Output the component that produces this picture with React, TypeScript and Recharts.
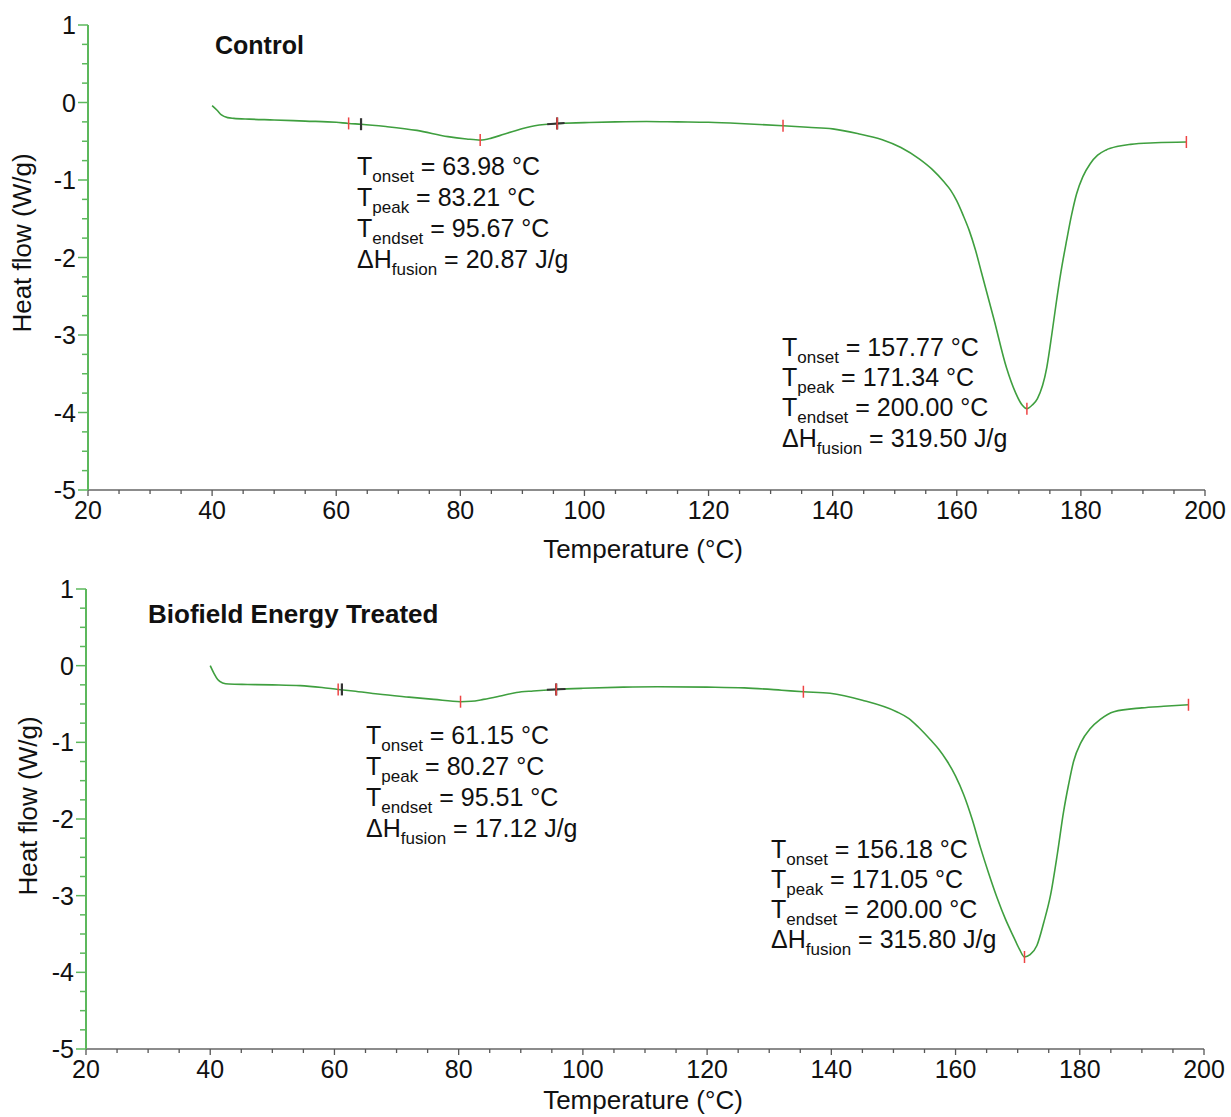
import { ComposedChart, Line, XAxis, YAxis, ReferenceDot } from 'recharts'

// Control sample DSC curve (temperature °C, heat flow W/g)
const controlTemp = [
  40.0, 40.8, 41.5, 42.5, 43.5, 46, 50, 55, 60, 62, 64, 68, 73, 78, 81, 83.2, 85, 87, 89, 92,
  95.6, 100, 105, 110, 115, 120, 125, 132, 136, 140, 144, 148, 151, 154, 156, 158, 159, 160,
  161, 162, 163, 164, 166, 168, 169.5, 170.5, 171.3, 172.2, 173, 174.5, 175.3, 176, 176.8,
  177.7, 178.5, 179.3, 180.3, 181.5, 182.7, 184, 186, 188, 192, 197,
]
const controlFlow = [
  -0.04, -0.1, -0.16, -0.195, -0.205, -0.215, -0.225, -0.24, -0.255, -0.27, -0.28, -0.31,
  -0.36, -0.44, -0.47, -0.485, -0.46, -0.41, -0.36, -0.3, -0.27, -0.26, -0.25, -0.245, -0.25,
  -0.255, -0.27, -0.3, -0.32, -0.34, -0.4, -0.48, -0.58, -0.73, -0.86, -1.03, -1.13, -1.27,
  -1.45, -1.65, -1.9, -2.2, -2.8, -3.42, -3.75, -3.9, -3.95, -3.9, -3.82, -3.42, -3.0, -2.6,
  -2.18, -1.78, -1.45, -1.18, -0.96, -0.79, -0.68, -0.615, -0.565, -0.54, -0.52, -0.51,
]

// Biofield energy treated sample
const treatedTemp = [
  40.0, 40.6, 41.2, 42, 43, 46, 50, 54.5, 58, 60.6, 63, 67, 72, 76, 80.3, 82, 84, 86.5, 89.3,
  92, 95.7, 100, 106.5, 112, 120, 126, 132, 135.5, 139.8, 145, 150.5, 152.5, 154, 156, 157.3,
  158.6, 160, 161.3, 162.7, 164, 165.3, 166.7, 168, 169.3, 170.3, 171.1, 172, 173.1, 174.2,
  175.3, 176.4, 177.4, 178.2, 179, 180.2, 181.7, 183.3, 185.5, 190, 193.5, 197.5,
]
const treatedFlow = [
  0.0, -0.1, -0.18, -0.225, -0.24, -0.245, -0.25, -0.26, -0.285, -0.31, -0.33, -0.37, -0.41,
  -0.44, -0.47, -0.465, -0.44, -0.4, -0.35, -0.33, -0.31, -0.295, -0.28, -0.275, -0.28, -0.29,
  -0.32, -0.34, -0.36, -0.45, -0.6, -0.69, -0.8, -0.97, -1.09, -1.24, -1.44, -1.68, -2.01,
  -2.37, -2.7, -3.03, -3.3, -3.53, -3.7, -3.8, -3.77, -3.65, -3.35, -2.99, -2.45, -1.9, -1.55,
  -1.25, -1.0, -0.82, -0.7, -0.6, -0.55, -0.53, -0.51,
]

// analysis markers
const controlRedT = [62.0, 83.2, 95.6, 132.0, 171.3, 197.0]
const controlRedHF = [-0.27, -0.485, -0.27, -0.3, -3.95, -0.51]
const controlBlackT = [64.0, 95.6]
const controlBlackHF = [-0.28, -0.27]
const controlSegT = [94.0, 96.8]
const controlSegHF = [-0.28, -0.265]

const treatedRedT = [60.6, 80.3, 95.7, 135.5, 171.1, 197.5]
const treatedRedHF = [-0.31, -0.47, -0.31, -0.34, -3.8, -0.51]
const treatedBlackT = [61.2, 95.7]
const treatedBlackHF = [-0.31, -0.31]
const treatedSegT = [94.2, 97.2]
const treatedSegHF = [-0.315, -0.305]

const xTicks = Array.from({ length: 37 }, (_, i) => 20 + i * 5)
const yTicks = Array.from({ length: 25 }, (_, i) => -5 + i * 0.25)

const controlNotes1 = [
  ['T', 'onset', '= 63.98 °C'],
  ['T', 'peak', '= 83.21 °C'],
  ['T', 'endset', '= 95.67 °C'],
  ['ΔH', 'fusion', '= 20.87 J/g'],
]
const controlNotes2 = [
  ['T', 'onset', '= 157.77 °C'],
  ['T', 'peak', '= 171.34 °C'],
  ['T', 'endset', '= 200.00 °C'],
  ['ΔH', 'fusion', '= 319.50 J/g'],
]
const treatedNotes1 = [
  ['T', 'onset', '= 61.15 °C'],
  ['T', 'peak', '= 80.27 °C'],
  ['T', 'endset', '= 95.51 °C'],
  ['ΔH', 'fusion', '= 17.12 J/g'],
]
const treatedNotes2 = [
  ['T', 'onset', '= 156.18 °C'],
  ['T', 'peak', '= 171.05 °C'],
  ['T', 'endset', '= 200.00 °C'],
  ['ΔH', 'fusion', '= 315.80 J/g'],
]

const FONT = "'Liberation Sans', Arial, sans-serif"
const GREEN_AXIS = '#5cb85c'
const GREEN_LINE = '#3f9f3f'

const zip = (t: number[], hf: number[]) => t.map((v, i) => ({ t: v, hf: hf[i] }))

const YTick = (props: any) => {
  const { x, y, payload } = props
  const v = payload.value
  const major = Math.abs(v - Math.round(v)) < 1e-6
  return (
    <g>
      <line x1={x - (major ? 10 : 6)} x2={x} y1={y} y2={y} stroke={GREEN_AXIS} strokeWidth={1.5} />
      {major && (
        <text x={x - 12} y={y} dy="0.36em" textAnchor="end" fontSize={25} fill="#111" fontFamily={FONT}>
          {Math.round(v)}
        </text>
      )}
    </g>
  )
}

const XTick = (props: any) => {
  const { x, y, payload } = props
  const v = payload.value
  const major = v % 20 === 0
  return (
    <g>
      <line x1={x} x2={x} y1={y} y2={y + (major ? 6 : 4)} stroke="#555" strokeWidth={1.3} />
      {major && (
        <text x={x} y={y + 29} textAnchor="middle" fontSize={25} fill="#111" fontFamily={FONT}>
          {v}
        </text>
      )}
    </g>
  )
}

const tickMark = (color: string, w: number) => (p: any) =>
  <line x1={p.cx} x2={p.cx} y1={p.cy - 6} y2={p.cy + 6} stroke={color} strokeWidth={w} />

interface DscProps {
  temp: number[]
  flow: number[]
  redT: number[]
  redHF: number[]
  blackT: number[]
  blackHF: number[]
  segT: number[]
  segHF: number[]
  height: number
  margin: { top: number; right: number; bottom: number; left: number }
  yWidth: number
}

function DscChart({ temp, flow, redT, redHF, blackT, blackHF, segT, segHF, height, margin, yWidth }: DscProps) {
  const data = zip(temp, flow)
  return (
    <ComposedChart width={1231} height={height} data={data} margin={margin}>
      <XAxis
        type="number"
        dataKey="t"
        domain={[20, 200]}
        ticks={xTicks}
        interval={0}
        height={60}
        tickSize={0}
        tickMargin={0}
        tickLine={false}
        tick={<XTick />}
        axisLine={{ stroke: '#666', strokeWidth: 1.5 }}
      />
      <YAxis
        type="number"
        domain={[-5, 1]}
        ticks={yTicks}
        interval={0}
        width={yWidth}
        tickSize={0}
        tickMargin={0}
        tickLine={false}
        tick={<YTick />}
        axisLine={{ stroke: GREEN_AXIS, strokeWidth: 2 }}
      />
      <Line
        type="monotone"
        dataKey="hf"
        stroke={GREEN_LINE}
        strokeWidth={1.6}
        dot={false}
        isAnimationActive={false}
      />
      <Line
        data={zip(segT, segHF)}
        type="linear"
        dataKey="hf"
        stroke="#333"
        strokeWidth={2}
        dot={false}
        isAnimationActive={false}
      />
      {blackT.map((t, i) => (
        <ReferenceDot key={'b' + i} x={t} y={blackHF[i]} r={0} ifOverflow="visible" shape={tickMark('#333', 2.2)} />
      ))}
      {redT.map((t, i) => (
        <ReferenceDot key={'r' + i} x={t} y={redHF[i]} r={0} ifOverflow="visible" shape={tickMark('#ee4444', 1.5)} />
      ))}
    </ComposedChart>
  )
}

function Notes({ x, y, gap, rows }: { x: number; y: number; gap: number; rows: string[][] }) {
  return (
    <>
      {rows.map((r, i) => (
        <text key={i} x={x} y={y + i * gap} fontSize={25} fill="#111" fontFamily={FONT}>
          <tspan>{r[0]}</tspan>
          <tspan fontSize={17} dy={7}>{r[1]}</tspan>
          <tspan dy={-7}> {r[2]}</tspan>
        </text>
      ))}
    </>
  )
}

export default function App() {
  return (
    <div style={{ position: 'absolute', left: 0, top: 0, width: 1231, height: 1117, background: '#fff' }}>
      <div style={{ position: 'absolute', left: 0, top: 0 }}>
        <DscChart
          temp={controlTemp}
          flow={controlFlow}
          redT={controlRedT}
          redHF={controlRedHF}
          blackT={controlBlackT}
          blackHF={controlBlackHF}
          segT={controlSegT}
          segHF={controlSegHF}
          height={558}
          margin={{ top: 25, right: 26, bottom: 8, left: 0 }}
          yWidth={88}
        />
      </div>
      <div style={{ position: 'absolute', left: 0, top: 558 }}>
        <DscChart
          temp={treatedTemp}
          flow={treatedFlow}
          redT={treatedRedT}
          redHF={treatedRedHF}
          blackT={treatedBlackT}
          blackHF={treatedBlackHF}
          segT={treatedSegT}
          segHF={treatedSegHF}
          height={559}
          margin={{ top: 31, right: 27, bottom: 8, left: 0 }}
          yWidth={86}
        />
      </div>
      <svg width={1231} height={1117} style={{ position: 'absolute', left: 0, top: 0, pointerEvents: 'none' }}>
        <text x={215} y={54} fontSize={25} fontWeight="bold" fill="#111" fontFamily={FONT}>Control</text>
        <text x={148} y={623} fontSize={26} fontWeight="bold" fill="#111" fontFamily={FONT}>Biofield Energy Treated</text>

        <Notes x={357} y={175} gap={31} rows={controlNotes1} />
        <Notes x={782} y={356} gap={30.2} rows={controlNotes2} />
        <Notes x={366} y={744} gap={31} rows={treatedNotes1} />
        <Notes x={771} y={858} gap={30} rows={treatedNotes2} />

        <text x={643} y={558} textAnchor="middle" fontSize={26} fill="#111" fontFamily={FONT}>Temperature (°C)</text>
        <text x={643} y={1109} textAnchor="middle" fontSize={26} fill="#111" fontFamily={FONT}>Temperature (°C)</text>
        <text transform="translate(31,243) rotate(-90)" textAnchor="middle" fontSize={26} fill="#111" fontFamily={FONT}>Heat flow (W/g)</text>
        <text transform="translate(37,806) rotate(-90)" textAnchor="middle" fontSize={26} fill="#111" fontFamily={FONT}>Heat flow (W/g)</text>
      </svg>
    </div>
  )
}
